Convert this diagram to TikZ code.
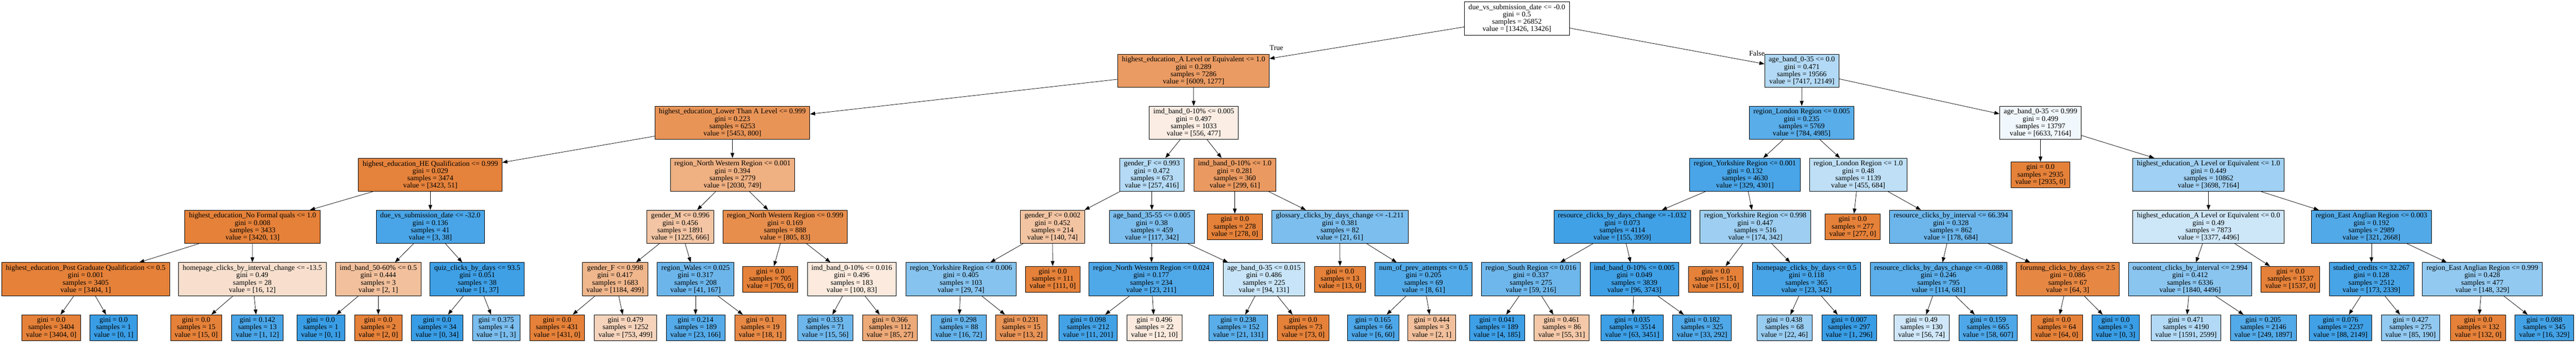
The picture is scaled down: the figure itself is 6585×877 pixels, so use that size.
\documentclass[tikz,border=0pt]{standalone}
\usepackage{fontspec}
\setmainfont{Liberation Serif}
\usetikzlibrary{arrows.meta}
\definecolor{orng}{RGB}{229,129,57}
\definecolor{blu}{RGB}{57,157,229}
\newcommand{\treefont}{\fontsize{18.7bp}{18.7bp}\selectfont}

\begin{document}
\begin{tikzpicture}[x=1bp,y=-1bp,
  box/.style={draw, line width=1bp, rectangle, align=center, font=\treefont, inner xsep=10.5bp, inner ysep=0bp, minimum height=85bp},
  leaf/.style={box, minimum height=66bp},
  branch/.style={-{Triangle[length=13bp,width=9.5bp]}, line width=1bp}]

  \useasboundingbox (0,0) rectangle (6585,877);

  % Draw root
  \node [box, fill=white] (root) at (3877.5,47) {due\_vs\_submission\_date <= -0.0\\gini = 0.5\\samples = 26852\\value = [13426, 13426]};
  \node [font=\treefont] (true) at (3263,122) {True};
  \node [font=\treefont] (false) at (4491,136) {False};

  % Draw depth 1
  \node [box, fill=orng!79] (al) at (3051,181) {highest\_education\_A Level or Equivalent <= 1.0\\gini = 0.289\\samples = 7286\\value = [6009, 1277]};
  \node [box, fill=blu!39] (ab035) at (4606,181) {age\_band\_0-35 <= 0.0\\gini = 0.471\\samples = 19566\\value = [7417, 12149]};

  % Draw depth 2
  \node [box, fill=orng!85] (lt) at (1872,314) {highest\_education\_Lower Than A Level <= 0.999\\gini = 0.223\\samples = 6253\\value = [5453, 800]};
  \node [box, fill=orng!14] (imd005) at (3051.5,314) {imd\_band\_0-10\% <= 0.005\\gini = 0.497\\samples = 1033\\value = [556, 477]};
  \node [box, fill=blu!84] (lon1) at (4605.5,314) {region\_London Region <= 0.005\\gini = 0.235\\samples = 5769\\value = [784, 4985]};
  \node [box, fill=blu!7] (ab035b) at (5216,314) {age\_band\_0-35 <= 0.999\\gini = 0.499\\samples = 13797\\value = [6633, 7164]};

  % Draw depth 3
  \node [box, fill=orng!99] (he) at (1100,447) {highest\_education\_HE Qualification <= 0.999\\gini = 0.029\\samples = 3474\\value = [3423, 51]};
  \node [box, fill=orng!63] (nw1) at (1872.5,447) {region\_North Western Region <= 0.001\\gini = 0.394\\samples = 2779\\value = [2030, 749]};
  \node [box, fill=blu!38] (gf3) at (2944.5,447) {gender\_F <= 0.993\\gini = 0.472\\samples = 673\\value = [257, 416]};
  \node [box, fill=orng!80] (imd10) at (3156.5,447) {imd\_band\_0-10\% <= 1.0\\gini = 0.281\\samples = 360\\value = [299, 61]};
  \node [box, fill=blu!92] (york3) at (4460.5,447) {region\_Yorkshire Region <= 0.001\\gini = 0.132\\samples = 4630\\value = [329, 4301]};
  \node [box, fill=blu!33] (lon2) at (4750,447) {region\_London Region <= 1.0\\gini = 0.48\\samples = 1139\\value = [455, 684]};
  \node [leaf, fill=orng] (lf2935) at (5216,447) {gini = 0.0\\samples = 2935\\value = [2935, 0]};
  \node [box, fill=blu!48] (ala) at (5645.5,447) {highest\_education\_A Level or Equivalent <= 1.0\\gini = 0.449\\samples = 10862\\value = [3698, 7164]};

  % Draw depth 4
  \node [box, fill=orng] (nf) at (645.5,580) {highest\_education\_No Formal quals <= 1.0\\gini = 0.008\\samples = 3433\\value = [3420, 13]};
  \node [box, fill=blu!92] (dvs32) at (1100,580) {due\_vs\_submission\_date <= -32.0\\gini = 0.136\\samples = 41\\value = [3, 38]};
  \node [box, fill=orng!46] (gm) at (1739,580) {gender\_M <= 0.996\\gini = 0.456\\samples = 1891\\value = [1225, 666]};
  \node [box, fill=orng!90] (nw2) at (2007,580) {region\_North Western Region <= 0.999\\gini = 0.169\\samples = 888\\value = [805, 83]};
  \node [box, fill=orng!47] (gf2) at (2690.5,580) {gender\_F <= 0.002\\gini = 0.452\\samples = 214\\value = [140, 74]};
  \node [box, fill=blu!66] (ab3555) at (2944.5,580) {age\_band\_35-55 <= 0.005\\gini = 0.38\\samples = 459\\value = [117, 342]};
  \node [leaf, fill=orng] (lf278) at (3156.5,580) {gini = 0.0\\samples = 278\\value = [278, 0]};
  \node [box, fill=blu!66] (gloss) at (3425,580) {glossary\_clicks\_by\_days\_change <= -1.211\\gini = 0.381\\samples = 82\\value = [21, 61]};
  \node [box, fill=blu!96] (res) at (4147,580) {resource\_clicks\_by\_days\_change <= -1.032\\gini = 0.073\\samples = 4114\\value = [155, 3959]};
  \node [box, fill=blu!49] (york2) at (4487,580) {region\_Yorkshire Region <= 0.998\\gini = 0.447\\samples = 516\\value = [174, 342]};
  \node [leaf, fill=orng] (lf277) at (4736,580) {gini = 0.0\\samples = 277\\value = [277, 0]};
  \node [box, fill=blu!74] (resint) at (4987,580) {resource\_clicks\_by\_interval <= 66.394\\gini = 0.328\\samples = 862\\value = [178, 684]};
  \node [box, fill=blu!25] (alb) at (5645.5,580) {highest\_education\_A Level or Equivalent <= 0.0\\gini = 0.49\\samples = 7873\\value = [3377, 4496]};
  \node [box, fill=blu!88] (east1) at (6062,580) {region\_East Anglian Region <= 0.003\\gini = 0.192\\samples = 2989\\value = [321, 2668]};

  % Draw depth 5
  \node [box, fill=orng] (pg) at (219,714) {highest\_education\_Post Graduate Qualification <= 0.5\\gini = 0.001\\samples = 3405\\value = [3404, 1]};
  \node [box, fill=orng!25] (hp) at (645,714) {homepage\_clicks\_by\_interval\_change <= -13.5\\gini = 0.49\\samples = 28\\value = [16, 12]};
  \node [box, fill=orng!50] (imd5060) at (967,714) {imd\_band\_50-60\% <= 0.5\\gini = 0.444\\samples = 3\\value = [2, 1]};
  \node [box, fill=blu!97] (quiz) at (1220,714) {quiz\_clicks\_by\_days <= 93.5\\gini = 0.051\\samples = 38\\value = [1, 37]};
  \node [box, fill=orng!58] (gf1) at (1572.5,714) {gender\_F <= 0.998\\gini = 0.417\\samples = 1683\\value = [1184, 499]};
  \node [box, fill=blu!75] (wales) at (1778,714) {region\_Wales <= 0.025\\gini = 0.317\\samples = 208\\value = [41, 167]};
  \node [leaf, fill=orng] (lf705) at (1969,714) {gini = 0.0\\samples = 705\\value = [705, 0]};
  \node [box, fill=orng!17] (imd016) at (2177.5,714) {imd\_band\_0-10\% <= 0.016\\gini = 0.496\\samples = 183\\value = [100, 83]};
  \node [box, fill=blu!61] (york1) at (2456.5,714) {region\_Yorkshire Region <= 0.006\\gini = 0.405\\samples = 103\\value = [29, 74]};
  \node [leaf, fill=orng] (lf111) at (2691,714) {gini = 0.0\\samples = 111\\value = [111, 0]};
  \node [box, fill=blu!89] (nw3) at (2943,714) {region\_North Western Region <= 0.024\\gini = 0.177\\samples = 234\\value = [23, 211]};
  \node [box, fill=blu!28] (ab035a) at (3231,714) {age\_band\_0-35 <= 0.015\\gini = 0.486\\samples = 225\\value = [94, 131]};
  \node [leaf, fill=orng] (lf13) at (3425.5,714) {gini = 0.0\\samples = 13\\value = [13, 0]};
  \node [box, fill=blu!87] (prev) at (3639,714) {num\_of\_prev\_attempts <= 0.5\\gini = 0.205\\samples = 69\\value = [8, 61]};
  \node [box, fill=blu!73] (south) at (3913.5,714) {region\_South Region <= 0.016\\gini = 0.337\\samples = 275\\value = [59, 216]};
  \node [box, fill=blu!97] (imd005b) at (4178,714) {imd\_band\_0-10\% <= 0.005\\gini = 0.049\\samples = 3839\\value = [96, 3743]};
  \node [leaf, fill=orng] (lf151) at (4386,714) {gini = 0.0\\samples = 151\\value = [151, 0]};
  \node [box, fill=blu!93] (hpd) at (4618,714) {homepage\_clicks\_by\_days <= 0.5\\gini = 0.118\\samples = 365\\value = [23, 342]};
  \node [box, fill=blu!83] (resdc) at (4955.5,714) {resource\_clicks\_by\_days\_change <= -0.088\\gini = 0.246\\samples = 795\\value = [114, 681]};
  \node [box, fill=orng!95] (forum) at (5285.5,714) {forumng\_clicks\_by\_days <= 2.5\\gini = 0.086\\samples = 67\\value = [64, 3]};
  \node [box, fill=blu!59] (ouc) at (5598.5,714) {oucontent\_clicks\_by\_interval <= 2.994\\gini = 0.412\\samples = 6336\\value = [1840, 4496]};
  \node [leaf, fill=orng] (lf1537) at (5855,714) {gini = 0.0\\samples = 1537\\value = [1537, 0]};
  \node [box, fill=blu!93] (stud) at (6062,714) {studied\_credits <= 32.267\\gini = 0.128\\samples = 2512\\value = [173, 2339]};
  \node [box, fill=blu!55] (east2) at (6345.5,714) {region\_East Anglian Region <= 0.999\\gini = 0.428\\samples = 477\\value = [148, 329]};

  % Draw depth 6 leaves
  \node [leaf, fill=orng] (lf3404) at (131,838) {gini = 0.0\\samples = 3404\\value = [3404, 0]};
  \node [leaf, fill=blu] (lf1a) at (290.5,838) {gini = 0.0\\samples = 1\\value = [0, 1]};
  \node [leaf, fill=orng] (lf15) at (501.5,838) {gini = 0.0\\samples = 15\\value = [15, 0]};
  \node [leaf, fill=blu!92] (lf13b) at (658,838) {gini = 0.142\\samples = 13\\value = [1, 12]};
  \node [leaf, fill=blu] (lf1b) at (820,838) {gini = 0.0\\samples = 1\\value = [0, 1]};
  \node [leaf, fill=orng] (lf2) at (967,838) {gini = 0.0\\samples = 2\\value = [2, 0]};
  \node [leaf, fill=blu] (lf34) at (1117.5,838) {gini = 0.0\\samples = 34\\value = [0, 34]};
  \node [leaf, fill=blu!67] (lf4) at (1268.5,838) {gini = 0.375\\samples = 4\\value = [1, 3]};
  \node [leaf, fill=orng] (lf431) at (1424,838) {gini = 0.0\\samples = 431\\value = [431, 0]};
  \node [leaf, fill=orng!34] (lf1252) at (1599,838) {gini = 0.479\\samples = 1252\\value = [753, 499]};
  \node [leaf, fill=blu!86] (lf189a) at (1778,838) {gini = 0.214\\samples = 189\\value = [23, 166]};
  \node [leaf, fill=orng!94] (lf19) at (1943.5,838) {gini = 0.1\\samples = 19\\value = [18, 1]};
  \node [leaf, fill=blu!73] (lf71) at (2109.5,838) {gini = 0.333\\samples = 71\\value = [15, 56]};
  \node [leaf, fill=orng!68] (lf112) at (2275,838) {gini = 0.366\\samples = 112\\value = [85, 27]};
  \node [leaf, fill=blu!78] (lf88) at (2451,838) {gini = 0.298\\samples = 88\\value = [16, 72]};
  \node [leaf, fill=orng!85] (lf15b) at (2610.5,838) {gini = 0.231\\samples = 15\\value = [13, 2]};
  \node [leaf, fill=blu!95] (lf212) at (2781.5,838) {gini = 0.098\\samples = 212\\value = [11, 201]};
  \node [leaf, fill=orng!17] (lf22) at (2951,838) {gini = 0.496\\samples = 22\\value = [12, 10]};
  \node [leaf, fill=blu!84] (lf152) at (3165.5,838) {gini = 0.238\\samples = 152\\value = [21, 131]};
  \node [leaf, fill=orng] (lf73) at (3331,838) {gini = 0.0\\samples = 73\\value = [73, 0]};
  \node [leaf, fill=blu!90] (lf66) at (3510,838) {gini = 0.165\\samples = 66\\value = [6, 60]};
  \node [leaf, fill=orng!50] (lf3) at (3660,838) {gini = 0.444\\samples = 3\\value = [2, 1]};
  \node [leaf, fill=blu!98] (lf189b) at (3827,838) {gini = 0.041\\samples = 189\\value = [4, 185]};
  \node [leaf, fill=orng!44] (lf86) at (3992,838) {gini = 0.461\\samples = 86\\value = [55, 31]};
  \node [leaf, fill=blu!98] (lf3514) at (4172.5,838) {gini = 0.035\\samples = 3514\\value = [63, 3451]};
  \node [leaf, fill=blu!89] (lf325) at (4351,838) {gini = 0.182\\samples = 325\\value = [33, 292]};
  \node [leaf, fill=blu!52] (lf68) at (4561.5,838) {gini = 0.438\\samples = 68\\value = [22, 46]};
  \node [leaf, fill=blu] (lf297) at (4727,838) {gini = 0.007\\samples = 297\\value = [1, 296]};
  \node [leaf, fill=blu!24] (lf130) at (4912,838) {gini = 0.49\\samples = 130\\value = [56, 74]};
  \node [leaf, fill=blu!90] (lf665) at (5082,838) {gini = 0.159\\samples = 665\\value = [58, 607]};
  \node [leaf, fill=orng] (lf64) at (5257.5,838) {gini = 0.0\\samples = 64\\value = [64, 0]};
  \node [leaf, fill=blu] (lf3c) at (5408,838) {gini = 0.0\\samples = 3\\value = [0, 3]};
  \node [leaf, fill=blu!39] (lf4190) at (5588,838) {gini = 0.471\\samples = 4190\\value = [1591, 2599]};
  \node [leaf, fill=blu!87] (lf2146) at (5785.5,838) {gini = 0.205\\samples = 2146\\value = [249, 1897]};
  \node [leaf, fill=blu!96] (lf2237) at (5983,838) {gini = 0.076\\samples = 2237\\value = [88, 2149]};
  \node [leaf, fill=blu!55] (lf275) at (6162,838) {gini = 0.427\\samples = 275\\value = [85, 190]};
  \node [leaf, fill=orng] (lf132) at (6335,838) {gini = 0.0\\samples = 132\\value = [132, 0]};
  \node [leaf, fill=blu!95] (lf345) at (6504,838) {gini = 0.088\\samples = 345\\value = [16, 329]};

  % Draw branches
  \draw [branch] (root) -- (al);
  \draw [branch] (root) -- (ab035);
  \draw [branch] (al) -- (lt);
  \draw [branch] (al) -- (imd005);
  \draw [branch] (ab035) -- (lon1);
  \draw [branch] (ab035) -- (ab035b);
  \draw [branch] (lt) -- (he);
  \draw [branch] (lt) -- (nw1);
  \draw [branch] (imd005) -- (gf3);
  \draw [branch] (imd005) -- (imd10);
  \draw [branch] (lon1) -- (york3);
  \draw [branch] (lon1) -- (lon2);
  \draw [branch] (ab035b) -- (lf2935);
  \draw [branch] (ab035b) -- (ala);
  \draw [branch] (he) -- (nf);
  \draw [branch] (he) -- (dvs32);
  \draw [branch] (nw1) -- (gm);
  \draw [branch] (nw1) -- (nw2);
  \draw [branch] (gf3) -- (gf2);
  \draw [branch] (gf3) -- (ab3555);
  \draw [branch] (imd10) -- (lf278);
  \draw [branch] (imd10) -- (gloss);
  \draw [branch] (york3) -- (res);
  \draw [branch] (york3) -- (york2);
  \draw [branch] (lon2) -- (lf277);
  \draw [branch] (lon2) -- (resint);
  \draw [branch] (ala) -- (alb);
  \draw [branch] (ala) -- (east1);
  \draw [branch] (nf) -- (pg);
  \draw [branch] (nf) -- (hp);
  \draw [branch] (dvs32) -- (imd5060);
  \draw [branch] (dvs32) -- (quiz);
  \draw [branch] (gm) -- (gf1);
  \draw [branch] (gm) -- (wales);
  \draw [branch] (nw2) -- (lf705);
  \draw [branch] (nw2) -- (imd016);
  \draw [branch] (gf2) -- (york1);
  \draw [branch] (gf2) -- (lf111);
  \draw [branch] (ab3555) -- (nw3);
  \draw [branch] (ab3555) -- (ab035a);
  \draw [branch] (gloss) -- (lf13);
  \draw [branch] (gloss) -- (prev);
  \draw [branch] (res) -- (south);
  \draw [branch] (res) -- (imd005b);
  \draw [branch] (york2) -- (lf151);
  \draw [branch] (york2) -- (hpd);
  \draw [branch] (resint) -- (resdc);
  \draw [branch] (resint) -- (forum);
  \draw [branch] (alb) -- (ouc);
  \draw [branch] (alb) -- (lf1537);
  \draw [branch] (east1) -- (stud);
  \draw [branch] (east1) -- (east2);
  \draw [branch] (pg) -- (lf3404);
  \draw [branch] (pg) -- (lf1a);
  \draw [branch] (hp) -- (lf15);
  \draw [branch] (hp) -- (lf13b);
  \draw [branch] (imd5060) -- (lf1b);
  \draw [branch] (imd5060) -- (lf2);
  \draw [branch] (quiz) -- (lf34);
  \draw [branch] (quiz) -- (lf4);
  \draw [branch] (gf1) -- (lf431);
  \draw [branch] (gf1) -- (lf1252);
  \draw [branch] (wales) -- (lf189a);
  \draw [branch] (wales) -- (lf19);
  \draw [branch] (imd016) -- (lf71);
  \draw [branch] (imd016) -- (lf112);
  \draw [branch] (york1) -- (lf88);
  \draw [branch] (york1) -- (lf15b);
  \draw [branch] (nw3) -- (lf212);
  \draw [branch] (nw3) -- (lf22);
  \draw [branch] (ab035a) -- (lf152);
  \draw [branch] (ab035a) -- (lf73);
  \draw [branch] (prev) -- (lf66);
  \draw [branch] (prev) -- (lf3);
  \draw [branch] (south) -- (lf189b);
  \draw [branch] (south) -- (lf86);
  \draw [branch] (imd005b) -- (lf3514);
  \draw [branch] (imd005b) -- (lf325);
  \draw [branch] (hpd) -- (lf68);
  \draw [branch] (hpd) -- (lf297);
  \draw [branch] (resdc) -- (lf130);
  \draw [branch] (resdc) -- (lf665);
  \draw [branch] (forum) -- (lf64);
  \draw [branch] (forum) -- (lf3c);
  \draw [branch] (ouc) -- (lf4190);
  \draw [branch] (ouc) -- (lf2146);
  \draw [branch] (stud) -- (lf2237);
  \draw [branch] (stud) -- (lf275);
  \draw [branch] (east2) -- (lf132);
  \draw [branch] (east2) -- (lf345);

\end{tikzpicture}
\end{document}
